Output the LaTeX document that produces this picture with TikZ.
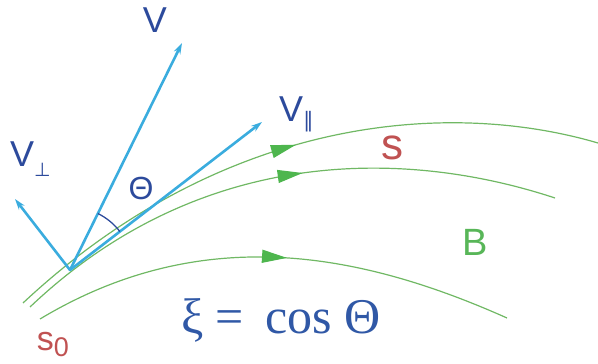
\documentclass[tikz,border=0pt]{standalone}
\usepackage{fontspec}
\setmainfont{Liberation Serif}
\newfontfamily\lserif{Liberation Serif}
\newfontfamily\lsans{Liberation Sans}
\newfontfamily\dvsans{DejaVu Sans}
\usetikzlibrary{arrows.meta,decorations.markings,angles}
\definecolor{vecblue}{RGB}{58,172,222}
\definecolor{navy}{RGB}{44,74,156}
\definecolor{fline}{RGB}{112,184,100}
\definecolor{farrow}{RGB}{78,182,78}
\definecolor{slabel}{RGB}{192,82,82}
\definecolor{blabel}{RGB}{88,182,88}
\definecolor{formula}{RGB}{48,88,166}
\tikzset{
  vec/.style={draw=vecblue, line width=2.6pt, line cap=round,
    -{Stealth[length=11pt,width=7pt]}},
  fieldline/.style={draw=fline, line width=1.2pt},
  farr/.style={postaction={decorate},
    decoration={markings, mark=at position #1 with {\arrow[farrow]{Triangle[length=25pt,width=13pt]}}}},
  lbl/.style={inner sep=0pt, outer sep=0pt},
}
\begin{document}
\begin{tikzpicture}[x=1pt,y=1pt]
\useasboundingbox (0,0) rectangle (598,364);
% field lines
\coordinate (a0) at (23,61);  \coordinate (a1) at (598,221);
\coordinate (b0) at (30,57);  \coordinate (b1) at (555,166);
\coordinate (c0) at (40,45);  \coordinate (c1) at (507,46);
\draw[fieldline, farr=0.51] (a0) .. controls (223,248) and (448,265) .. (a1);
\draw[fieldline, farr=0.547] (b0) .. controls (200,218.5) and (405,215.5) .. (b1);
\draw[fieldline, farr=0.53] (c0) .. controls (200,141) and (357,113) .. (c1);
% vectors
\coordinate (O) at (70,94);
\coordinate (Vt) at (182,321);
\coordinate (Vpar) at (262,242);
\coordinate (Vperp) at (15,165);
\draw[vec] (O) -- (Vt);
\draw[vec] (O) -- (Vpar);
\draw[vec] (O) -- (Vperp);
\pic[draw=navy, line width=1.3pt, angle radius=63pt] {angle = Vpar--O--Vt};
% labels
\node[lbl, text=navy, font=\lsans\fontsize{36}{36}\selectfont] (lV) at (155,344) {V};
\node[lbl, text=navy, anchor=base west] (lVperp) at (10,197)
  {\lsans\fontsize{36}{36}\selectfont V\raisebox{-10pt}{\dvsans\fontsize{19}{19}\selectfont ⊥}};
\node[lbl, text=navy, anchor=base west] (lVpar) at (279,242)
  {\lsans\fontsize{36}{36}\selectfont V\raisebox{-6pt}{\dvsans\fontsize{21}{21}\selectfont ∥}};
\node[lbl, text=navy, font=\lsans\fontsize{32}{32}\selectfont] (lTheta) at (141,176) {Θ};
\node[lbl, text=slabel, font=\lsans\fontsize{44}{44}\selectfont] (ls) at (392,216) {s};
\node[lbl, text=blabel, font=\lsans\fontsize{38}{38}\selectfont] (lB) at (475,122) {B};
\node[lbl, text=slabel, anchor=base west] (ls0) at (37,13)
  {\lsans\fontsize{34}{34}\selectfont s\raisebox{-6pt}{\fontsize{27}{27}\selectfont 0}};
\node[lbl, text=formula, anchor=base west] (lxi) at (181,30)
  {\lserif\fontsize{50}{50}\selectfont ξ = \hspace{9pt}cos Θ};
\end{tikzpicture}
\end{document}
